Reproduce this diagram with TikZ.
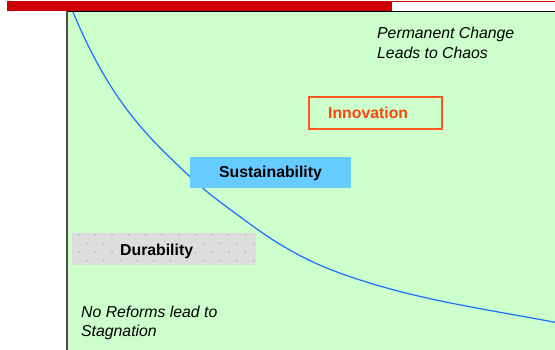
\documentclass[tikz,border=0pt]{standalone}
\usepackage{fontspec}
\setmainfont{Liberation Sans}
\begin{document}
\definecolor{barred}{HTML}{CC0000}
\definecolor{paleGreen}{HTML}{CCFFCC}
\definecolor{frameGray}{HTML}{4D4D4D}
\definecolor{curveBlue}{HTML}{1A6FFF}
\definecolor{skyBlue}{HTML}{66CCFF}
\definecolor{dotGray}{HTML}{DDDDDD}
\definecolor{dotBlue}{HTML}{A3ABC4}
\definecolor{innoRed}{HTML}{FF5522}
\definecolor{innoText}{HTML}{FF4411}
\begin{tikzpicture}[x=1pt,y=-1pt,
  txt/.style={inner sep=0pt,anchor=base west,font=\fontsize{15.8}{19}\selectfont},
  note/.style={txt,font=\fontsize{15.8}{19}\selectfont\itshape},
  label/.style={txt,font=\fontsize{15.8}{19}\selectfont\bfseries},
  box/.style={anchor=north west,inner sep=0pt,outer sep=0pt}]
\useasboundingbox (0,0) rectangle (555,350);
\fill[white] (0,0) rectangle (555,350);

% header bar
\fill[barred] (7,1.5) rectangle (392,10.7);
\draw[barred,line width=1pt] (392,1.8) -- (555,1.8);

% chart area
\fill[paleGreen] (66,12) rectangle (555,350);
\draw[black,line width=1pt] (66,12) -- (555,12);
\draw[frameGray,line width=2pt] (67,11.5) -- (67,350);

% trade-off curve
\draw[curveBlue,line width=1.2pt]
  (73,12) .. controls (112,105.6) and (151,139.6) .. (190,176.7)
          .. controls (210,195.7) and (230,209.2) .. (250,224)
          .. controls (277.7,244.5) and (305.3,260) .. (333,270.5)
          .. controls (407,298.6) and (481,308.2) .. (555,322.3);

% boxes
\node[box,fill=dotGray,minimum width=184pt,minimum height=32pt] (dur) at (72,233) {};
\foreach \r in {0,1,2,3}{
  \pgfmathsetmacro{\yy}{234.7+8.67*\r}
  \pgfmathsetmacro{\xs}{78.7+8.33*mod(\r,2)}
  \foreach \k in {0,...,10}{
    \pgfmathsetmacro{\xx}{\xs+16.67*\k}
    \ifdim\xx pt<255pt
      \fill[dotBlue] (\xx,\yy) circle (0.8pt);
    \fi
  }
}
\node[box,fill=skyBlue,minimum width=161pt,minimum height=31pt] (sus) at (190,157) {};
\node[box,draw=innoRed,line width=1.5pt,minimum width=133pt,minimum height=32pt] (inno) at (309,97) {};

% labels
\node[label,fill=dotGray,inner sep=2pt] (durT) at (118,255) {Durability};
\node[label] (susT) at (219,178) {Sustainability};
\node[label,text=innoText] (innoT) at (328,119) {Innovation};

\node[note] (chaos1) at (377,39) {Permanent Change};
\node[note] (chaos2) at (377,58.4) {Leads to Chaos};
\node[note] (stag1) at (81,317.3) {No Reforms lead to};
\node[note] (stag2) at (81,336.7) {Stagnation};
\end{tikzpicture}
\end{document}
